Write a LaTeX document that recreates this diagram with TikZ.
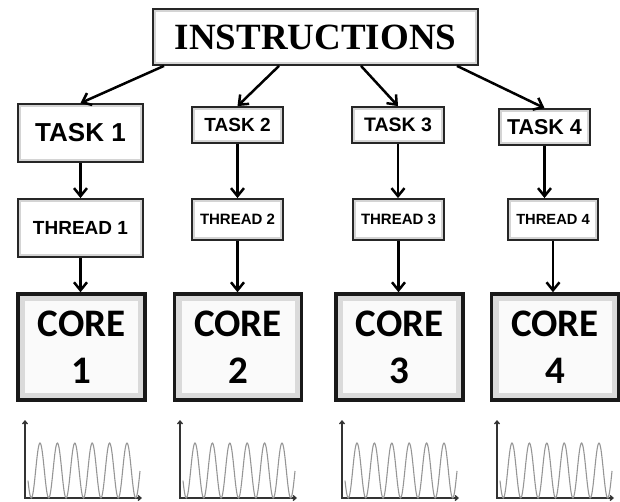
\documentclass[tikz,border=0pt]{standalone}
\usepackage{fontspec}
\usepackage{tikz}
\usetikzlibrary{arrows.meta,shadows}
\setmainfont{Liberation Serif}
\newfontfamily\labelfont{Liberation Sans}
\newfontfamily\corefont{Carlito}
\definecolor{bevel}{HTML}{D4D4D4}
\definecolor{corebevel}{HTML}{DADADA}
\definecolor{wavegray}{HTML}{969696}

\begin{document}
\begin{tikzpicture}[x=1pt, y=-1pt,
  box/.style={draw=black!85, line width=1.8pt, fill=white, inner sep=0pt,
              align=center,
              path picture={\draw[bevel, line width=6pt]
                (path picture bounding box.south west) rectangle
                (path picture bounding box.north east);},
              drop shadow={shadow xshift=1pt, shadow yshift=-1pt, opacity=0.25}},
  corebox/.style={box, draw=black!90, line width=3.5pt, fill=gray!4,
              minimum width=127pt, minimum height=106pt,
              font=\corefont\bfseries\fontsize{39}{47}\selectfont,
              path picture={\draw[corebevel, line width=14pt]
                (path picture bounding box.south west) rectangle
                (path picture bounding box.north east);},
              drop shadow={shadow xshift=0pt, shadow yshift=0pt, opacity=0.35,
                           shadow scale=1.03}},
  arr/.style={-{Straight Barb[length=8pt,width=13pt]}, line width=2.5pt},
  axis/.style={{Straight Barb[length=3pt,width=5pt]}-{Straight Barb[length=3pt,width=5pt]},
               line width=1.3pt, black!80},
  wave/.style={wavegray, line width=1.1pt}
]
  \useasboundingbox (0,0) rectangle (620,502);
  % Instructions
  \node[box, minimum width=325pt, minimum height=56pt,
        font=\bfseries\fontsize{37}{44}\selectfont] (instr) at (315.5,37) {INSTRUCTIONS};
  % Tasks
  \node[box, minimum width=125pt, minimum height=58pt,
        font=\labelfont\bfseries\fontsize{26}{30}\selectfont] (task1) at (80.5,133) {TASK 1};
  \node[box, minimum width=91pt, minimum height=36pt,
        font=\labelfont\bfseries\fontsize{19}{22}\selectfont] (task2) at (237.5,125) {TASK 2};
  \node[box, minimum width=92pt, minimum height=36pt,
        font=\labelfont\bfseries\fontsize{19.5}{22}\selectfont] (task3) at (398,125) {TASK 3};
  \node[box, minimum width=91pt, minimum height=36pt,
        font=\labelfont\bfseries\fontsize{21.5}{24}\selectfont] (task4) at (544.5,127) {TASK 4};
  % Threads
  \node[box, minimum width=125pt, minimum height=58pt,
        font=\labelfont\bfseries\fontsize{19}{22}\selectfont] (thread1) at (80.5,228) {THREAD 1};
  \node[box, minimum width=91pt, minimum height=41pt,
        font=\labelfont\bfseries\fontsize{15}{18}\selectfont] (thread2) at (237.5,219.5) {THREAD 2};
  \node[box, minimum width=91pt, minimum height=41pt,
        font=\labelfont\bfseries\fontsize{15}{18}\selectfont] (thread3) at (398.5,219.5) {THREAD 3};
  \node[box, minimum width=90pt, minimum height=41pt,
        font=\labelfont\bfseries\fontsize{14.7}{18}\selectfont] (thread4) at (553,219.5) {THREAD 4};
  % Cores
  \node[corebox] (core1) at (81.5,347) {CORE\\1};
  \node[corebox] (core2) at (238,347)  {CORE\\2};
  \node[corebox] (core3) at (399.5,347) {CORE\\3};
  \node[corebox] (core4) at (555,347)  {CORE\\4};

  \draw[arr] ([xshift=-151.5pt]instr.south) -- (task1.north);
  \draw[arr] ([xshift=-36.5pt]instr.south)  -- (task2.north);
  \draw[arr] ([xshift=45.5pt]instr.south)   -- (task3.north);
  \draw[arr] ([xshift=141.5pt]instr.south)  -- (task4.north);
  \foreach \i in {1,...,4} {
    \draw[arr] (task\i.south)   -- (task\i.south |- thread\i.north);
    \draw[arr] (thread\i.south) -- (thread\i.south |- core\i.north);
  }

  % Signals
  \foreach \gx in {25,180,342,497} {
    \draw[axis] (\gx,420) -- (\gx,498) -- (\gx+117,498);
    \draw[wave] plot[domain=0:112, samples=160, smooth]
      ({\gx+3+\x}, {470.5-27.5*cos((\x-12)*20.69)});
  }
\end{tikzpicture}
\end{document}
